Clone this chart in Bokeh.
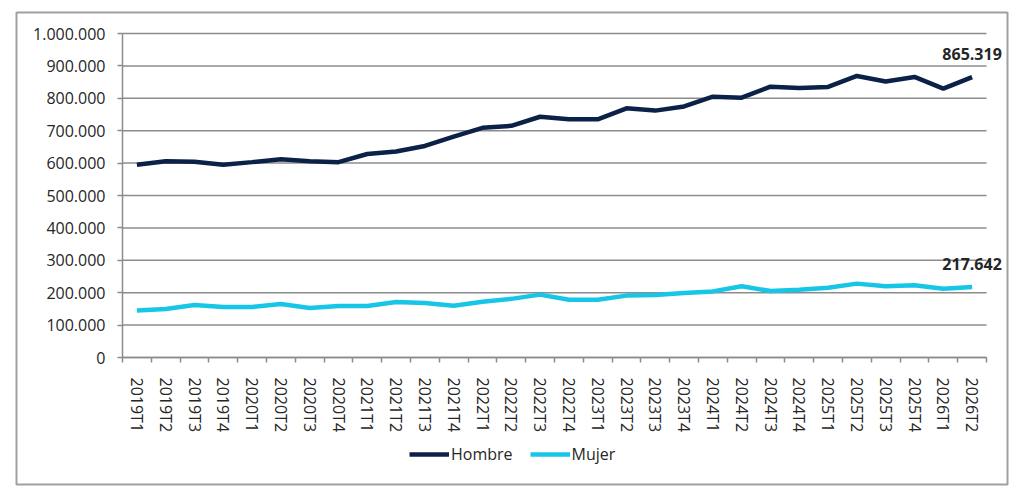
from bokeh.core.properties import value
from bokeh.embed import file_html
from bokeh.models import (ColumnDataSource, CustomJSTickFormatter,
                          FixedTicker, LabelSet, Legend, LegendItem, Range1d)
from bokeh.plotting import figure
from bokeh.resources import INLINE

periodos = ["2019T1", "2019T2", "2019T3", "2019T4",
            "2020T1", "2020T2", "2020T3", "2020T4",
            "2021T1", "2021T2", "2021T3", "2021T4",
            "2022T1", "2022T2", "2022T3", "2022T4",
            "2023T1", "2023T2", "2023T3", "2023T4",
            "2024T1", "2024T2", "2024T3", "2024T4",
            "2025T1", "2025T2", "2025T3", "2025T4",
            "2026T1", "2026T2"]

hombre = [595000, 606000, 604000, 595000, 603000, 612000, 606000, 603000,
          628000, 636000, 653000, 682000, 709000, 715000, 743000, 735000,
          735000, 769000, 762000, 775000, 805000, 802000, 836000, 832000,
          835000, 869000, 852000, 866000, 830000, 865319]

mujer = [145000, 150000, 162000, 156000, 156000, 165000, 153000, 159000,
         159000, 171000, 168000, 160000, 172000, 181000, 194000, 178000,
         178000, 191000, 193000, 199000, 204000, 220000, 205000, 209000,
         215000, 228000, 220000, 223000, 212000, 217642]

y_ticks = list(range(0, 1000001, 100000))
y_max = 1000000

FONT = "Open Sans"
GRIS = "#8c8c8c"
TEXTO = "#262626"


def miles(v):
    return f"{v:,.0f}".replace(",", ".")


# one slot per period: points in the middle, tick marks on the edges
n = len(periodos)
x = [i + 0.5 for i in range(n)]
bordes = list(range(n + 1))

# the frame is the whole boxed chart; axes sit inside it at 0
slot = 28.8                 # px per period
px_y = 324 / y_max          # px per unit
p = figure(width=1010, height=487,
           x_range=Range1d(-106 / slot, n + 21 / slot),
           y_range=Range1d(-127 / px_y, y_max + 21 / px_y),
           output_backend="svg", toolbar_location=None,
           min_border_left=16, min_border_right=3,
           min_border_top=12, min_border_bottom=3)
p.outline_line_color = "#a0a0a0"
p.outline_line_width = 2
p.background_fill_color = "white"
p.border_fill_color = "white"
p.xgrid.visible = False
p.ygrid.visible = False

# horizontal grid, from the axis to the last slot
p.segment(x0=0, x1=n, y0=y_ticks, y1=y_ticks, line_color=GRIS, line_width=1.5)

r_h = p.line(x, hombre, line_color="#0c2147", line_width=4.5)
r_m = p.line(x, mujer, line_color="#17c6e6", line_width=4.5)

# y axis
p.yaxis.fixed_location = 0
p.yaxis.bounds = (0, y_max)
p.yaxis.ticker = FixedTicker(ticks=y_ticks)
p.yaxis.formatter = CustomJSTickFormatter(
    code='return Math.round(tick).toString().replace(/\\B(?=(\\d{3})+(?!\\d))/g, ".");')
p.yaxis.axis_line_color = GRIS
p.yaxis.axis_line_width = 1.5
p.yaxis.major_tick_line_color = GRIS
p.yaxis.major_tick_line_width = 1.5
p.yaxis.major_tick_in = 0
p.yaxis.major_tick_out = 5
p.yaxis.minor_tick_line_color = None
p.yaxis.major_label_standoff = 12
p.yaxis.major_label_text_font = FONT
p.yaxis.major_label_text_font_size = "16px"
p.yaxis.major_label_text_color = TEXTO

# x axis
p.xaxis.fixed_location = 0
p.xaxis.bounds = (0, n)
p.xaxis.ticker = FixedTicker(ticks=x, minor_ticks=bordes)
p.xaxis.formatter = CustomJSTickFormatter(
    args=dict(cats=periodos), code="return cats[Math.floor(tick)];")
p.xaxis.axis_line_color = GRIS
p.xaxis.axis_line_width = 1.5
p.xaxis.major_tick_line_color = None
p.xaxis.major_tick_in = 0
p.xaxis.major_tick_out = 0
p.xaxis.minor_tick_line_color = GRIS
p.xaxis.minor_tick_line_width = 1.5
p.xaxis.minor_tick_in = 0
p.xaxis.minor_tick_out = 5
p.xaxis.major_label_orientation = "vertical"
p.xaxis.major_label_standoff = 15
p.xaxis.major_label_text_font = FONT
p.xaxis.major_label_text_font_size = "16px"
p.xaxis.major_label_text_color = TEXTO

# last values
ultimos = ColumnDataSource(dict(
    x=[x[-1], x[-1]],
    y=[hombre[-1], mujer[-1]],
    text=[miles(hombre[-1]), miles(mujer[-1])],
))
p.add_layout(LabelSet(x="x", y="y", text="text", source=ultimos,
                      text_align="center", text_baseline="middle",
                      y_offset=23, text_font=value(FONT),
                      text_font_style="bold", text_font_size="16px",
                      text_color=TEXTO))

legend = Legend(items=[LegendItem(label="Hombre", renderers=[r_h]),
                       LegendItem(label="Mujer", renderers=[r_m])],
                orientation="horizontal", location=(393, 19),
                padding=0, margin=0, spacing=17, label_standoff=2,
                glyph_width=40, glyph_height=16,
                border_line_color=None, background_fill_alpha=0,
                label_text_font=FONT, label_text_font_size="16px",
                label_text_color=TEXTO)
p.add_layout(legend, "center")

open("out.html", "w").write(file_html(p, INLINE))
